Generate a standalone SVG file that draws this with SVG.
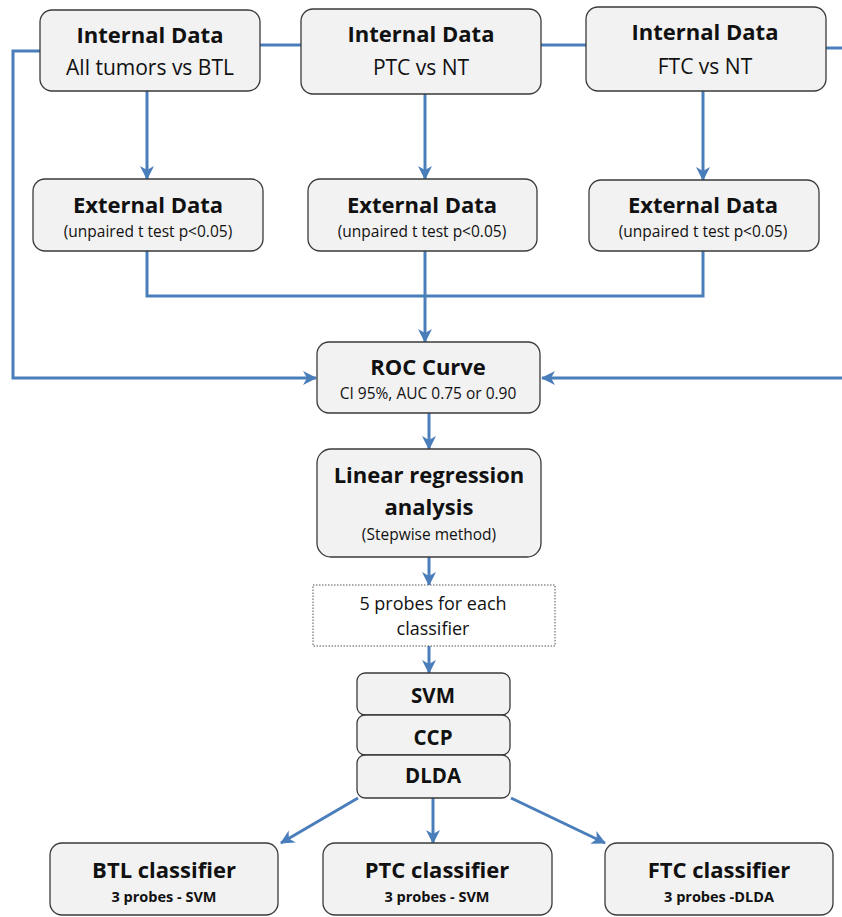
<svg xmlns="http://www.w3.org/2000/svg" width="842" height="917" viewBox="0 0 842 917">
<style>
.box{fill:#F2F2F2;stroke:#3a3a3a;stroke-width:1.3}
.dot{fill:#ffffff;stroke:#555;stroke-width:1;stroke-dasharray:1.5 1.5}
.c{fill:none;stroke:#4A7EBB;stroke-width:3}
text{font-family:"Open Sans",Lato,"Liberation Sans",sans-serif;fill:#111;text-anchor:middle}
.t{font-size:22px;font-weight:bold}
.s{font-size:21px}
.p{font-size:15.5px}
.m{font-size:20.5px;font-weight:bold}
.f{font-size:14.5px;font-weight:bold}
</style>
<defs>
<marker id="ah" markerUnits="userSpaceOnUse" markerWidth="16" markerHeight="16" refX="13" refY="8" orient="auto">
<path d="M0,1 L14,8 L0,15 L4,8 Z" fill="#4A7EBB"/>
</marker>
</defs>
<g id="connectors">
<path class="c" d="M260,45 H302"/>
<path class="c" d="M541,45 H586"/>
<path class="c" d="M40,51 H13 V378 H316" marker-end="url(#ah)"/>
<path class="c" d="M826,48 H846 V378 H542" marker-end="url(#ah)"/>
<path class="c" d="M147,91 V179" marker-end="url(#ah)"/>
<path class="c" d="M425,94 V179" marker-end="url(#ah)"/>
<path class="c" d="M703,91 V180" marker-end="url(#ah)"/>
<path class="c" d="M147,251 V296 H703 V251"/>
<path class="c" d="M425,251 V342" marker-end="url(#ah)"/>
<path class="c" d="M429,413 V449" marker-end="url(#ah)"/>
<path class="c" d="M429,557 V585" marker-end="url(#ah)"/>
<path class="c" d="M429,646 V673" marker-end="url(#ah)"/>
<path class="c" d="M358,798 L281,843" marker-end="url(#ah)"/>
<path class="c" d="M433,798 V843" marker-end="url(#ah)"/>
<path class="c" d="M511,798 L605,843" marker-end="url(#ah)"/>
</g>
<g id="int1"><rect class="box" x="40" y="10" width="220" height="81" rx="12"/><text class="t" x="150" y="43">Internal Data</text><text class="s" x="150" y="75">All tumors vs BTL</text></g>
<g id="int2"><rect class="box" x="301" y="9" width="240" height="85" rx="12"/><text class="t" x="421" y="42">Internal Data</text><text class="s" x="421" y="75">PTC vs NT</text></g>
<g id="int3"><rect class="box" x="586" y="7" width="240" height="84" rx="12"/><text class="t" x="705" y="40">Internal Data</text><text class="s" x="705" y="74">FTC vs NT</text></g>
<g id="ext1"><rect class="box" x="33" y="179" width="230" height="72" rx="12"/><text class="t" x="148" y="213">External Data</text><text class="p" x="148" y="237">(unpaired t test p&lt;0.05)</text></g>
<g id="ext2"><rect class="box" x="308" y="179" width="229" height="72" rx="12"/><text class="t" x="422" y="213">External Data</text><text class="p" x="422" y="237">(unpaired t test p&lt;0.05)</text></g>
<g id="ext3"><rect class="box" x="589" y="180" width="230" height="71" rx="12"/><text class="t" x="703" y="213">External Data</text><text class="p" x="703" y="237">(unpaired t test p&lt;0.05)</text></g>
<g id="roc"><rect class="box" x="317" y="342" width="223" height="71" rx="12"/><text class="t" x="428" y="375">ROC Curve</text><text class="p" x="428" y="399">CI 95%, AUC 0.75 or 0.90</text></g>
<g id="linreg"><rect class="box" x="317" y="449" width="224" height="108" rx="14"/><text class="t" x="429" y="483">Linear regression</text><text class="t" x="429" y="515">analysis</text><text class="p" x="429" y="540">(Stepwise method)</text></g>
<g id="probes"><rect class="dot" x="313" y="585" width="242" height="61"/><text x="433" y="610" style="font-size:18px">5 probes for each</text><text x="433" y="635" style="font-size:18px">classifier</text></g>
<g id="svm"><rect class="box" x="357" y="673" width="153" height="42" rx="8"/><text class="m" x="433" y="703">SVM</text></g>
<g id="ccp"><rect class="box" x="357" y="715" width="153" height="40" rx="8"/><text class="m" x="433" y="745">CCP</text></g>
<g id="dlda"><rect class="box" x="357" y="755" width="153" height="43" rx="8"/><text class="m" x="433" y="783">DLDA</text></g>
<g id="btl"><rect class="box" x="50" y="843" width="228" height="72" rx="12"/><text class="t" x="164" y="878">BTL classifier</text><text class="f" x="164" y="902">3 probes - SVM</text></g>
<g id="ptc"><rect class="box" x="323" y="843" width="229" height="72" rx="12"/><text class="t" x="437" y="878">PTC classifier</text><text class="f" x="437" y="902">3 probes - SVM</text></g>
<g id="ftc"><rect class="box" x="605" y="843" width="228" height="72" rx="12"/><text class="t" x="719" y="878">FTC classifier</text><text class="f" x="719" y="902">3 probes -DLDA</text></g>
</svg>
